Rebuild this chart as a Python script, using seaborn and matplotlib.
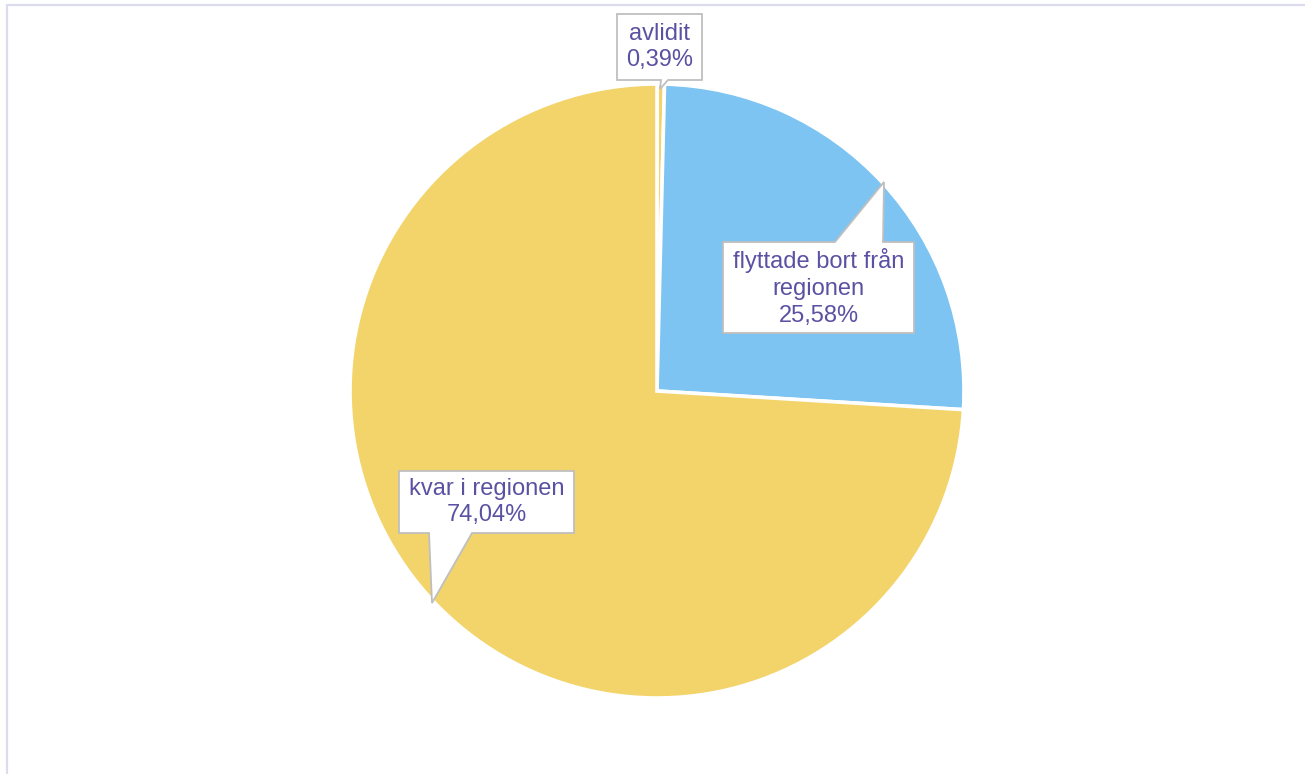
import seaborn as sns
import matplotlib.pyplot as plt
from matplotlib.patches import Polygon, Rectangle

# data
categories = ['avlidit', 'flyttade bort från\nregionen', 'kvar i regionen']
shares = [0.39, 25.58, 74.04]
colors = ['#F2D46B', '#7DC4F2', '#F2D46B']

sns.set_theme(style='white')
plt.rcParams['font.family'] = ['Liberation Sans', 'DejaVu Sans']

W, H = 1305, 774
fig = plt.figure(figsize=(W / 100, H / 100), dpi=100)
ax = fig.add_axes([0, 0, 1, 1])

ax.pie(shares, colors=colors, startangle=90, counterclock=False,
       center=(657, H - 391), radius=307,
       wedgeprops=dict(edgecolor='white', linewidth=2.6))

# pie resets the limits, so set pixel-like limits afterwards
ax.set_xlim(0, W)
ax.set_ylim(0, H)
ax.set_aspect('equal')
ax.axis('off')

# outer frame
ax.add_patch(Rectangle((7, -20), W, H - 5 + 20, fill=False,
                       edgecolor='#DCDCF0', linewidth=1.6))

text_color = '#5B51A3'


def callout(label, value, box, tail, tip):
    # box: (left, top, right, bottom) in pixels, tail: x positions on box edge
    l, t, r, b = box
    tx0, tx1 = tail
    if tip[1] > b:  # tail below the box
        pts = [(l, t), (r, t), (r, b), (tx1, b), tip, (tx0, b), (l, b)]
    else:  # tail above the box
        pts = [(l, t), (tx0, t), tip, (tx1, t), (r, t), (r, b), (l, b)]
    pts = [(x, H - y) for x, y in pts]
    ax.add_patch(Polygon(pts, closed=True, facecolor='white',
                         edgecolor='#BFBFBF', linewidth=1.3, zorder=5))
    txt = f"{label}\n{value:.2f}%".replace('.', ',')
    ax.text((l + r) / 2, H - (t + b) / 2, txt, ha='center', va='center',
            color=text_color, fontsize=17, linespacing=1.28, zorder=6)


callout(categories[0], shares[0], (617, 14, 702, 80), (661, 668), (660, 89))
callout(categories[1], shares[1], (723, 242, 914, 333), (835, 883), (884, 182))
callout(categories[2], shares[2], (399, 471, 574, 533), (429, 472), (432, 603))

fig.savefig('out.png', dpi=100)
